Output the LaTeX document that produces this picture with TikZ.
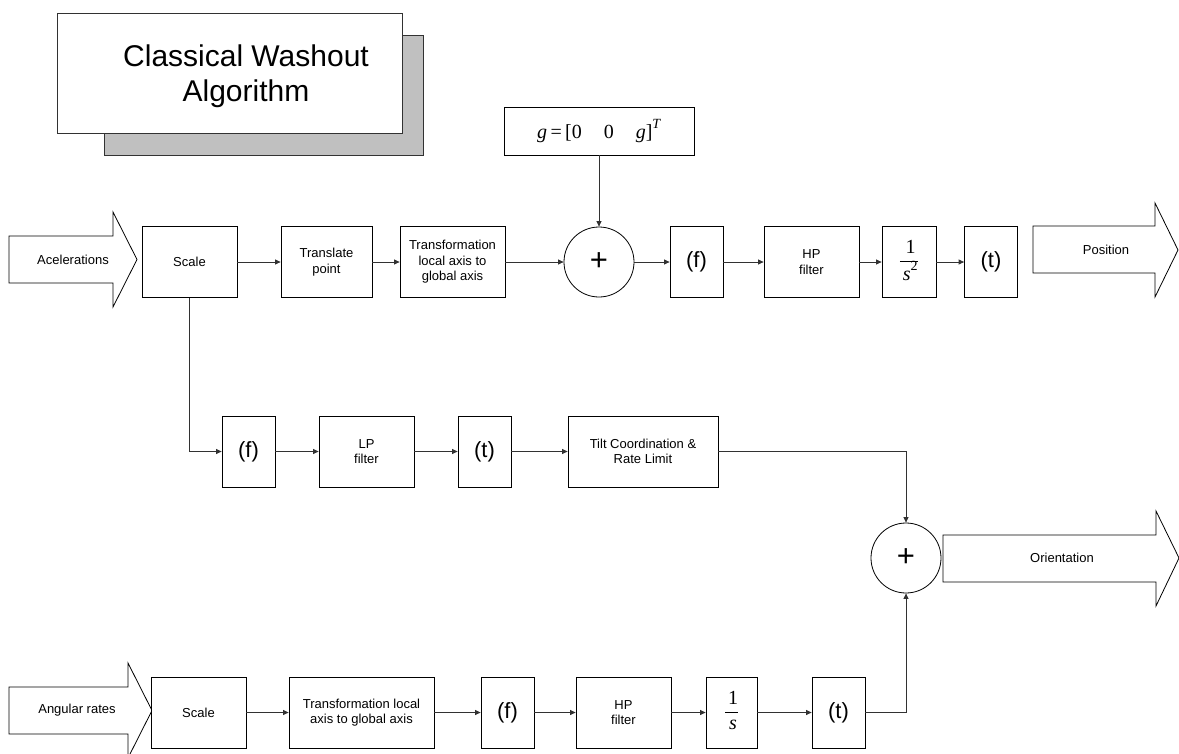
\documentclass[tikz,border=0pt]{standalone}
\usepackage{fontspec}
\setmainfont{Liberation Sans}
\newfontfamily\tms{Liberation Serif}
\usetikzlibrary{arrows.meta}
\definecolor{shadowgray}{RGB}{192,192,192}
\definecolor{linegray}{RGB}{50,50,50}

\tikzset{
  blk/.style 2 args={draw=black, line width=0.8pt, fill=white, inner sep=0pt,
    align=center, minimum width=#1, minimum height=#2,
    font=\fontsize{13}{15.5}\selectfont},
  opblk/.style={blk={53pt}{71pt}, font=\fontsize{22}{22}\selectfont},
  sumnode/.style={circle, draw=black, line width=0.8pt, fill=white,
    minimum size=70pt, inner sep=0pt, font=\fontsize{31}{31}\selectfont},
  flow/.style={draw=linegray, line width=0.8pt,
    -{Triangle[length=5.5pt,width=5pt]}},
  bigarrow/.style={draw=black, line width=0.8pt, fill=white},
  arrowlabel/.style={inner sep=0pt, font=\fontsize{13}{15.5}\selectfont},
}
% one over a denominator, set as a stacked fraction in the serif face
\newcommand{\fracone}[1]{{\tms\fontsize{20}{22}\selectfont
  \setlength{\arrayrulewidth}{0.7pt}\renewcommand{\arraystretch}{1.1}%
  \begin{tabular}{@{}c@{}}\hspace{3pt}1\hspace{3pt}\\\hline\hspace{3pt}#1\hspace{3pt}\end{tabular}}}

\begin{document}
\begin{tikzpicture}[x=1pt,y=-1pt]
\useasboundingbox (0,0) rectangle (1179,753);

% title card with its drop shadow
\draw[draw=linegray, line width=0.8pt, fill=shadowgray] (104,35) rectangle (423,155);
\node[draw=linegray, line width=0.8pt, fill=white, minimum width=345pt,
  minimum height=120pt, inner sep=0pt] (titlebox) at (229.5,73) {};
\node[align=center, font=\fontsize{30}{35}\selectfont] (title) at (246,76)
  {Classical Washout\\Algorithm};

% gravity vector
\node[blk={190pt}{48pt}, font=\tms\fontsize{20}{22}\selectfont] (gvec) at (599,131)
  {{\itshape g}\,=\,[0\hspace{1.1em}0\hspace{1.1em}{\itshape g}]\raisebox{2pt}{\textsuperscript{\itshape T}}};

% input / output arrows
\draw[bigarrow] (9,236) -- (113,236) -- (113,212) -- (137,259.5) -- (113,307) -- (113,283) -- (9,283) -- cycle;
\node[arrowlabel] (accin) at (73,259.5) {Acelerations};

\draw[bigarrow] (1033,226) -- (1155,226) -- (1155,203) -- (1178,250) -- (1155,297) -- (1155,273) -- (1033,273) -- cycle;
\node[arrowlabel] (posout) at (1106,250) {Position};

\draw[bigarrow] (943,535) -- (1156,535) -- (1156,511) -- (1179,558) -- (1156,606) -- (1156,582) -- (943,582) -- cycle;
\node[arrowlabel] (oriout) at (1062,558) {Orientation};

\draw[bigarrow] (9,687) -- (128,687) -- (128,663) -- (152,710.5) -- (128,758) -- (128,734) -- (9,734) -- cycle;
\node[arrowlabel] (angin) at (77,710.5) {Angular rates};

% translational channel
\node[blk={95pt}{71pt}]  (scaleA) at (189.5,262) {Scale};
\node[blk={91pt}{71pt}]  (transl) at (326.5,262) {Translate\\point};
\node[blk={105pt}{71pt}] (trA)    at (452.5,262) {Transformation\\local axis to\\global axis};
\node[sumnode]           (sumA)   at (599,262) {+};
\node[opblk]             (fA)     at (696.5,262) {(f)};
\node[blk={95pt}{71pt}]  (hpA)    at (811.5,262) {HP\\filter};
\node[blk={54pt}{71pt}]  (intA)   at (909,262) {\fracone{{\itshape s}\raisebox{2pt}{\textsuperscript{2}}}};
\node[opblk]             (tA)     at (991,262) {(t)};

% tilt coordination channel
\node[opblk]             (fB)     at (248.5,451.5) {(f)};
\node[blk={95pt}{71pt}]  (lpB)    at (366.5,451.5) {LP\\filter};
\node[opblk]             (tB)     at (484.5,451.5) {(t)};
\node[blk={150pt}{71pt}] (tilt)   at (643,451.5) {Tilt Coordination \&\\Rate Limit};
\node[sumnode]           (sumB)   at (906,558) {+};

% rotational channel
\node[blk={95pt}{71pt}]  (scaleC) at (198.5,712.5) {Scale};
\node[blk={145pt}{71pt}] (trC)    at (361.5,712.5) {Transformation local\\axis to global axis};
\node[opblk]             (fC)     at (507.5,712.5) {(f)};
\node[blk={95pt}{71pt}]  (hpC)    at (623.5,712.5) {HP\\filter};
\node[blk={51pt}{71pt}]  (intC)   at (731.5,712.5) {\fracone{\itshape s}};
\node[opblk]             (tC)     at (838.5,712.5) {(t)};

% signal connections
\draw[flow] (scaleA) -- (transl);
\draw[flow] (transl) -- (trA);
\draw[flow] (trA) -- (sumA);
\draw[flow] (gvec) -- (sumA);
\draw[flow] (sumA) -- (fA);
\draw[flow] (fA) -- (hpA);
\draw[flow] (hpA) -- (intA);
\draw[flow] (intA) -- (tA);

\draw[flow] (scaleA.south) |- (fB.west);
\draw[flow] (fB) -- (lpB);
\draw[flow] (lpB) -- (tB);
\draw[flow] (tB) -- (tilt);
\draw[flow] (tilt.east) -| (sumB.north);

\draw[flow] (scaleC) -- (trC);
\draw[flow] (trC) -- (fC);
\draw[flow] (fC) -- (hpC);
\draw[flow] (hpC) -- (intC);
\draw[flow] (intC) -- (tC);
\draw[flow] (tC.east) -| (sumB.south);
\end{tikzpicture}
\end{document}
